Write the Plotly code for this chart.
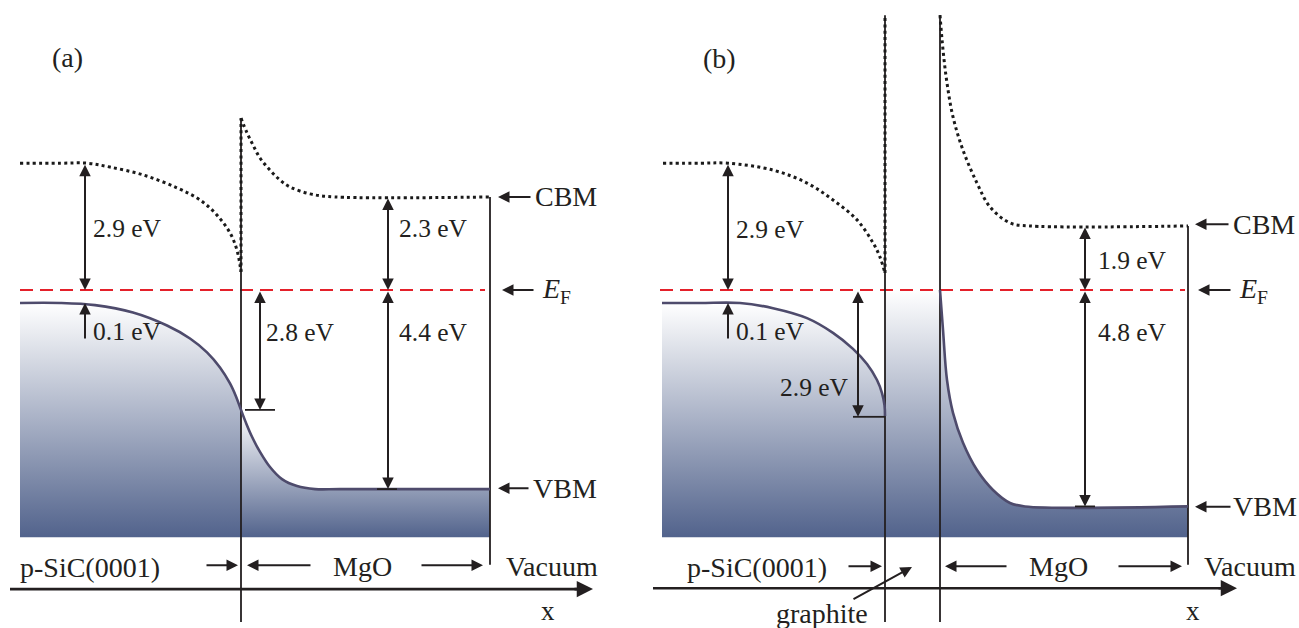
import plotly.graph_objects as go

# ---------------- data (schematic energies in eV relative to E_F, positions in arbitrary x units) ----
E_F = 0.0
BAND_BOTTOM = -5.71

# Panel (a): p-SiC(0001) / MgO
A_CB_L_X = [20, 60, 87, 110, 143, 177, 200, 217, 230, 237, 241]
A_CB_L_Y = [2.93, 2.93, 2.93, 2.84, 2.66, 2.36, 2.08, 1.73, 1.32, 0.92, 0.42]
A_CB_R_X = [241, 247, 253, 260, 270, 280, 290, 310, 335, 490]
A_CB_R_Y = [3.97, 3.63, 3.35, 3.05, 2.77, 2.54, 2.38, 2.22, 2.15, 2.15]
A_VB_L_X = [20, 60, 95, 133, 167, 190, 207, 220, 230, 236, 241]
A_VB_L_Y = [-0.30, -0.30, -0.35, -0.52, -0.82, -1.12, -1.44, -1.79, -2.16, -2.46, -2.77]
A_VB_R_X = [241, 246, 252, 260, 270, 282, 297, 315, 340, 490]
A_VB_R_Y = [-2.77, -3.07, -3.39, -3.74, -4.09, -4.37, -4.53, -4.60, -4.60, -4.60]

# Panel (b): p-SiC(0001) / graphite / MgO
B_CB_L_X = [663, 700, 728, 773, 807, 833, 857, 873, 880, 885]
B_CB_L_Y = [2.93, 2.93, 2.93, 2.77, 2.47, 2.08, 1.62, 1.09, 0.76, 0.39]
B_CB_R_X = [940, 943, 947, 953, 963, 977, 990, 1010, 1030, 1188]
B_CB_R_Y = [6.35, 5.55, 4.78, 4.00, 3.23, 2.47, 1.92, 1.55, 1.48, 1.48]
B_VB_L_X = [662, 700, 740, 773, 807, 833, 853, 867, 877, 882, 884.5, 885]
B_VB_L_Y = [-0.30, -0.30, -0.30, -0.42, -0.65, -0.99, -1.36, -1.71, -2.08, -2.38, -2.66, -2.91]
B_GR_X = [885, 940]
B_GR_Y = [0.0, 0.0]
B_VB_R_X = [940, 943, 947, 953, 963, 977, 993, 1010, 1025, 1188]
B_VB_R_Y = [0.00, -0.92, -2.08, -2.84, -3.53, -4.16, -4.62, -4.92, -5.00, -5.00]

# interfaces (x, top, bottom) and vacuum edges (x, top, bottom)
INTERFACE_X = [241, 885, 940]
INTERFACE_TOP = [3.97, 6.35, 6.35]
INTERFACE_BOT = [-7.67, -7.67, -7.67]
VACUUM_X = [490, 1188]
VACUUM_TOP = [2.15, 1.48]
VACUUM_BOT = [-6.35, -6.35]
# dotted CBM running along the interface
CB_WALL_X = [241, 885]
CB_WALL_Y0 = [0.42, 0.39]
CB_WALL_Y1 = [3.97, 6.35]
# Fermi level extent
EF_X0 = [20, 660]
EF_X1 = [485, 1185]
# x axis arrows
AXIS_X0 = [10, 653]
AXIS_X1 = [593, 1237]
AXIS_Y = [-6.91, -6.89]

# energy-gap double arrows
GAP_X = [85, 260, 388, 388, 728, 858, 1085, 1085]
GAP_Y0 = [2.93, 0.0, 2.15, 0.0, 2.93, 0.0, 1.48, 0.0]
GAP_Y1 = [0.0, -2.77, 0.0, -4.60, 0.0, -2.93, 0.0, -5.00]
# single 0.1 eV arrows
SMALL_X = [85, 728]
SMALL_Y0 = [-1.155, -1.155]
SMALL_Y1 = [-0.30, -0.30]
# tick marks at arrow ends
TICK_X0 = [245, 377, 853, 1075]
TICK_X1 = [275, 397, 885, 1095]
TICK_Y = [-2.77, -4.60, -2.93, -5.00]

GAP_LABELS = ["2.9 eV", "0.1 eV", "2.8 eV", "2.3 eV", "4.4 eV",
              "2.9 eV", "0.1 eV", "2.9 eV", "1.9 eV", "4.8 eV"]
GAP_LABEL_X = [91, 91, 264, 397, 397, 734, 734, 851, 1096, 1096]
GAP_LABEL_Y = [1.43, -0.97, -0.99, 1.43, -0.99, 1.39, -0.97, -2.26, 0.69, -0.99]
GAP_LABEL_ANCHOR = ["left", "left", "left", "left", "left",
                    "left", "left", "right", "left", "left"]

# level labels with arrows
LEVEL_TEXT = ["CBM", "<i>E</i><sub>F</sub>", "VBM", "CBM", "<i>E</i><sub>F</sub>", "VBM"]
LEVEL_ARROW_TAIL = [532, 535, 530, 1230, 1232, 1232]
LEVEL_ARROW_HEAD = [498, 502, 498, 1195, 1198, 1195]
LEVEL_Y = [2.15, 0.0, -4.58, 1.52, 0.0, -5.01]
LEVEL_TEXT_X = [533, 540, 531, 1231, 1237, 1231]

# region labels
REGION_TEXT = ["p-SiC(0001)", "MgO", "Vacuum", "(a)",
               "p-SiC(0001)", "graphite", "MgO", "Vacuum", "(b)"]
REGION_X = [90, 362, 552, 67, 757, 822, 1058, 1250, 719]
REGION_Y = [-6.40, -6.38, -6.38, 5.38, -6.40, -7.47, -6.38, -6.38, 5.36]
REGION_SIZE = [28, 28, 28, 28, 28, 28, 28, 28, 28]
AXIS_LABEL_X = [548, 1193]
# arrows under the band diagram (tail x, head x, tail y, head y)
REG_ARROW_X0 = [205, 312, 420, 847, 1008, 1117, 852]
REG_ARROW_X1 = [238, 247, 483, 882, 945, 1182, 912]
REG_ARROW_Y0 = [-6.36, -6.36, -6.36, -6.38, -6.38, -6.38, -7.16]
REG_ARROW_Y1 = [-6.36, -6.36, -6.36, -6.38, -6.38, -6.38, -6.40]

# ---------------- styles ----------------
INK = "#231f20"
RED = "#e4202a"
VB_LINE = "#4e4b6c"
DARK = "#52638c"
FONT = "'Liberation Serif', 'Times New Roman', Times, serif"
Y_RANGE = [-7.809, 6.7]

fig = go.Figure()


def region(x, y, top):
    fig.add_trace(go.Scatter(x=[x[0], x[-1]], y=[BAND_BOTTOM, BAND_BOTTOM], mode="lines",
                             line=dict(width=0), hoverinfo="skip", showlegend=False))
    fig.add_trace(go.Scatter(x=x, y=y, mode="lines", line=dict(width=0, shape="spline", smoothing=1.0),
                             fill="tonexty",
                             fillgradient=dict(type="vertical", colorscale=[[0, DARK], [1, "#ffffff"]],
                                               start=BAND_BOTTOM, stop=top),
                             hoverinfo="skip", showlegend=False))


region(A_VB_L_X, A_VB_L_Y, max(A_VB_L_Y))
region(A_VB_R_X, A_VB_R_Y, max(A_VB_R_Y))
region(B_VB_L_X, B_VB_L_Y, max(B_VB_L_Y))
region(B_GR_X, B_GR_Y, max(B_GR_Y))
region(B_VB_R_X, B_VB_R_Y, max(B_VB_R_Y))


def line(x, y, color=INK, width=1.8, dash=None, shape="linear"):
    fig.add_trace(go.Scatter(x=x, y=y, mode="lines",
                             line=dict(color=color, width=width, dash=dash, shape=shape, smoothing=1.0),
                             hoverinfo="skip", showlegend=False))


# Fermi level
for x0, x1 in zip(EF_X0, EF_X1):
    line([x0, x1], [E_F, E_F], color=RED, width=2, dash="13px,7px")

# interfaces and vacuum edges
for x, t, b in zip(INTERFACE_X, INTERFACE_TOP, INTERFACE_BOT):
    line([x, x], [t, b], width=1.8)
for x, t, b in zip(VACUUM_X, VACUUM_TOP, VACUUM_BOT):
    line([x, x], [t, b], width=1.8)

# valence band lines (panel a drawn as one continuous curve across the interface)
line(A_VB_L_X + A_VB_R_X[1:], A_VB_L_Y + A_VB_R_Y[1:], color=VB_LINE, width=2.6, shape="spline")
for xs, ys in [(B_VB_L_X, B_VB_L_Y), (B_VB_R_X, B_VB_R_Y)]:
    line(xs, ys, color=VB_LINE, width=2.6, shape="spline")

# conduction band (dotted)
for xs, ys in [(A_CB_L_X, A_CB_L_Y), (A_CB_R_X, A_CB_R_Y), (B_CB_L_X, B_CB_L_Y), (B_CB_R_X, B_CB_R_Y)]:
    line(xs, ys, color="#1a1a1a", width=3, dash="3px,3.3px", shape="spline")
for x, y0, y1 in zip(CB_WALL_X, CB_WALL_Y0, CB_WALL_Y1):
    line([x, x], [y0, y1], color="#1a1a1a", width=3, dash="3px,3.3px")

# ticks
for x0, x1, y in zip(TICK_X0, TICK_X1, TICK_Y):
    line([x0, x1], [y, y], width=1.8)

# x axes
for x0, x1, y in zip(AXIS_X0, AXIS_X1, AXIS_Y):
    line([x0, x1 - 8], [y, y], width=2.6)

ann = []


def arrow(x0, y0, x1, y1, both=False, size=1.15, width=2.0, head=2):
    ann.append(dict(x=x1, y=y1, ax=x0, ay=y0, xref="x", yref="y", axref="x", ayref="y",
                    text="", showarrow=True, arrowhead=head, startarrowhead=head,
                    arrowside="end+start" if both else "end",
                    arrowsize=size, startarrowsize=size, arrowwidth=width, arrowcolor=INK,
                    standoff=0, startstandoff=0))


def label(x, y, text, size, anchor="left", yanchor="middle"):
    ann.append(dict(x=x, y=y, xref="x", yref="y", text=text, showarrow=False,
                    xanchor=anchor, yanchor=yanchor, font=dict(family=FONT, size=size, color=INK)))


for x, y0, y1 in zip(GAP_X, GAP_Y0, GAP_Y1):
    arrow(x, y0, x, y1, both=True)
for x, y0, y1 in zip(SMALL_X, SMALL_Y0, SMALL_Y1):
    arrow(x, y0, x, y1)
for t, x, y, a in zip(GAP_LABELS, GAP_LABEL_X, GAP_LABEL_Y, GAP_LABEL_ANCHOR):
    label(x, y, t, 25.5, a)
for t, xt, xh, tx, y in zip(LEVEL_TEXT, LEVEL_ARROW_TAIL, LEVEL_ARROW_HEAD, LEVEL_TEXT_X, LEVEL_Y):
    arrow(xt, y, xh, y)
    label(tx, y, t, 28)
for t, x, y, s in zip(REGION_TEXT, REGION_X, REGION_Y, REGION_SIZE):
    label(x, y, t, s, "center")
for x in AXIS_LABEL_X:
    label(x, Y_RANGE[0], "x", 27, "center", "bottom")
for x0, x1, y0, y1 in zip(REG_ARROW_X0, REG_ARROW_X1, REG_ARROW_Y0, REG_ARROW_Y1):
    arrow(x0, y0, x1, y1)
for x0, x1, y in zip(AXIS_X0, AXIS_X1, AXIS_Y):
    arrow(x1 - 20, y, x1, y, size=1.25, width=2.6)

fig.update_layout(
    width=1299, height=628, margin=dict(l=0, r=0, t=0, b=0),
    paper_bgcolor="white", plot_bgcolor="white", showlegend=False,
    xaxis=dict(range=[0, 1299], visible=False, fixedrange=True),
    yaxis=dict(range=Y_RANGE, visible=False, fixedrange=True),
    annotations=ann,
)

fig.write_html("out.html", config={"displayModeBar": False},
               post_script="document.body.style.margin='0';document.body.style.overflow='hidden';")
